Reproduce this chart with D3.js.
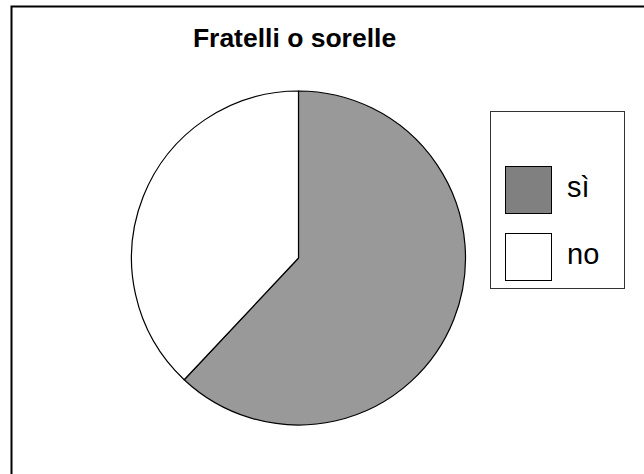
<!DOCTYPE html>
<html><head><meta charset="utf-8">
<script src="https://cdn.jsdelivr.net/npm/d3@7"></script>
<style>body{margin:0;background:#fff}svg{display:block}</style>
</head><body>
<svg id="c" width="644" height="474"></svg>
<script>
const title = "Fratelli o sorelle";
const categories = ["sì", "no"];
const values = [62, 38];
const sliceColors = ["#999999", "#ffffff"];
const legendColors = ["#808080", "#ffffff"];

const svg = d3.select("#c");
const font = "'Liberation Sans', Arial, sans-serif";

svg.append("rect").attr("x", 11.5).attr("y", 6.5).attr("width", 640).attr("height", 474)
  .attr("fill", "#fff").attr("stroke", "#000").attr("stroke-width", 2);

svg.append("text").attr("x", 294.5).attr("y", 47).attr("text-anchor", "middle")
  .attr("font-family", font).attr("font-weight", "bold").attr("font-size", 26.5)
  .text(title);

const cx = 298.5, cy = 258, r = 167;
const pie = d3.pie().sort(null).value(d => d)(values);
const arc = d3.arc().innerRadius(0).outerRadius(r);
svg.append("g").attr("transform", `translate(${cx},${cy})`)
  .selectAll("path").data(pie).join("path")
  .attr("d", arc).attr("fill", (d, i) => sliceColors[i])
  .attr("stroke", "#000").attr("stroke-width", 1.2).attr("stroke-linejoin", "round");

const lg = svg.append("g");
lg.append("rect").attr("x", 490.5).attr("y", 111.5).attr("width", 134).attr("height", 177)
  .attr("fill", "#fff").attr("stroke", "#333").attr("stroke-width", 1);
const ly = d3.scalePoint().domain(categories).range([166, 233]);
categories.forEach((c, i) => {
  lg.append("rect").attr("x", 505.5).attr("y", ly(c) + 0.5).attr("width", 46).attr("height", 47)
    .attr("fill", legendColors[i]).attr("stroke", "#000").attr("stroke-width", 1);
  lg.append("text").attr("x", 567).attr("y", ly(c) + 31)
    .attr("font-family", font).attr("font-size", 29).text(c);
});
</script>
</body></html>
